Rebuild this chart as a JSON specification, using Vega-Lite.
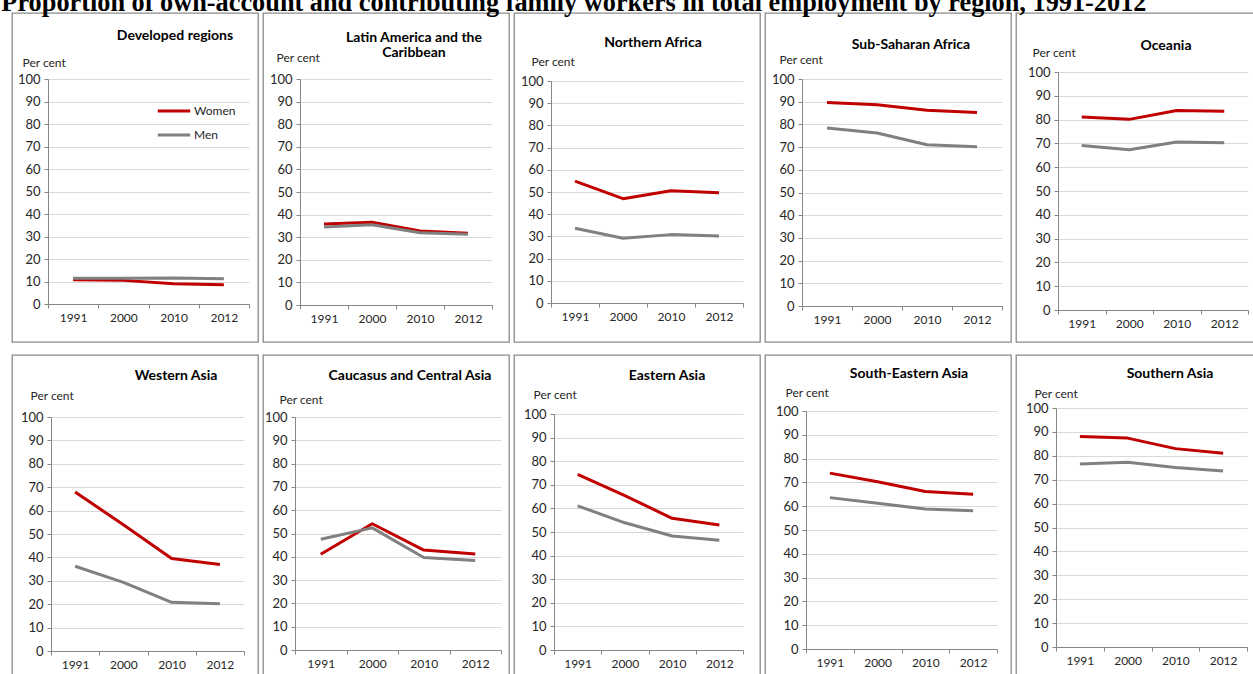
{
  "$schema": "https://vega.github.io/schema/vega-lite/v6.json",
  "padding": {"left": 1, "top": -10, "right": 0, "bottom": 0},
  "title": {"text": "Proportion of own-account and contributing family workers in total employment by region, 1991-2012", "anchor": "start", "font": "Liberation Serif", "fontSize": 26.3, "fontWeight": "bold", "color": "#000000", "offset": -4, "dx": -10},
  "data": {"values": [
    {"region": "Developed regions", "year": "1991", "sex": "Women", "value": 10.8},
    {"region": "Developed regions", "year": "2000", "sex": "Women", "value": 10.5},
    {"region": "Developed regions", "year": "2010", "sex": "Women", "value": 9.0},
    {"region": "Developed regions", "year": "2012", "sex": "Women", "value": 8.6},
    {"region": "Developed regions", "year": "1991", "sex": "Men", "value": 11.5},
    {"region": "Developed regions", "year": "2000", "sex": "Men", "value": 11.5},
    {"region": "Developed regions", "year": "2010", "sex": "Men", "value": 11.6},
    {"region": "Developed regions", "year": "2012", "sex": "Men", "value": 11.2},
    {"region": "Latin America", "year": "1991", "sex": "Women", "value": 35.8},
    {"region": "Latin America", "year": "2000", "sex": "Women", "value": 36.6},
    {"region": "Latin America", "year": "2010", "sex": "Women", "value": 32.7},
    {"region": "Latin America", "year": "2012", "sex": "Women", "value": 31.7},
    {"region": "Latin America", "year": "1991", "sex": "Men", "value": 34.5},
    {"region": "Latin America", "year": "2000", "sex": "Men", "value": 35.5},
    {"region": "Latin America", "year": "2010", "sex": "Men", "value": 32.0},
    {"region": "Latin America", "year": "2012", "sex": "Men", "value": 31.3},
    {"region": "Northern Africa", "year": "1991", "sex": "Women", "value": 54.9},
    {"region": "Northern Africa", "year": "2000", "sex": "Women", "value": 47.0},
    {"region": "Northern Africa", "year": "2010", "sex": "Women", "value": 50.6},
    {"region": "Northern Africa", "year": "2012", "sex": "Women", "value": 49.7},
    {"region": "Northern Africa", "year": "1991", "sex": "Men", "value": 33.7},
    {"region": "Northern Africa", "year": "2000", "sex": "Men", "value": 29.2},
    {"region": "Northern Africa", "year": "2010", "sex": "Men", "value": 30.8},
    {"region": "Northern Africa", "year": "2012", "sex": "Men", "value": 30.2},
    {"region": "Sub-Saharan Africa", "year": "1991", "sex": "Women", "value": 89.7},
    {"region": "Sub-Saharan Africa", "year": "2000", "sex": "Women", "value": 88.7},
    {"region": "Sub-Saharan Africa", "year": "2010", "sex": "Women", "value": 86.2},
    {"region": "Sub-Saharan Africa", "year": "2012", "sex": "Women", "value": 85.2},
    {"region": "Sub-Saharan Africa", "year": "1991", "sex": "Men", "value": 78.4},
    {"region": "Sub-Saharan Africa", "year": "2000", "sex": "Men", "value": 76.2},
    {"region": "Sub-Saharan Africa", "year": "2010", "sex": "Men", "value": 71.0},
    {"region": "Sub-Saharan Africa", "year": "2012", "sex": "Men", "value": 70.1},
    {"region": "Oceania", "year": "1991", "sex": "Women", "value": 81.1},
    {"region": "Oceania", "year": "2000", "sex": "Women", "value": 80.1},
    {"region": "Oceania", "year": "2010", "sex": "Women", "value": 83.8},
    {"region": "Oceania", "year": "2012", "sex": "Women", "value": 83.5},
    {"region": "Oceania", "year": "1991", "sex": "Men", "value": 69.1},
    {"region": "Oceania", "year": "2000", "sex": "Men", "value": 67.3},
    {"region": "Oceania", "year": "2010", "sex": "Men", "value": 70.6},
    {"region": "Oceania", "year": "2012", "sex": "Men", "value": 70.3},
    {"region": "Western Asia", "year": "1991", "sex": "Women", "value": 67.9},
    {"region": "Western Asia", "year": "2000", "sex": "Women", "value": 54.0},
    {"region": "Western Asia", "year": "2010", "sex": "Women", "value": 39.5},
    {"region": "Western Asia", "year": "2012", "sex": "Women", "value": 37.0},
    {"region": "Western Asia", "year": "1991", "sex": "Men", "value": 36.2},
    {"region": "Western Asia", "year": "2000", "sex": "Men", "value": 29.3},
    {"region": "Western Asia", "year": "2010", "sex": "Men", "value": 20.8},
    {"region": "Western Asia", "year": "2012", "sex": "Men", "value": 20.2},
    {"region": "Caucasus and Central Asia", "year": "1991", "sex": "Women", "value": 41.1},
    {"region": "Caucasus and Central Asia", "year": "2000", "sex": "Women", "value": 54.2},
    {"region": "Caucasus and Central Asia", "year": "2010", "sex": "Women", "value": 42.9},
    {"region": "Caucasus and Central Asia", "year": "2012", "sex": "Women", "value": 41.2},
    {"region": "Caucasus and Central Asia", "year": "1991", "sex": "Men", "value": 47.5},
    {"region": "Caucasus and Central Asia", "year": "2000", "sex": "Men", "value": 52.4},
    {"region": "Caucasus and Central Asia", "year": "2010", "sex": "Men", "value": 39.7},
    {"region": "Caucasus and Central Asia", "year": "2012", "sex": "Men", "value": 38.4},
    {"region": "Eastern Asia", "year": "1991", "sex": "Women", "value": 74.4},
    {"region": "Eastern Asia", "year": "2000", "sex": "Women", "value": 65.4},
    {"region": "Eastern Asia", "year": "2010", "sex": "Women", "value": 55.8},
    {"region": "Eastern Asia", "year": "2012", "sex": "Women", "value": 53.0},
    {"region": "Eastern Asia", "year": "1991", "sex": "Men", "value": 61.1},
    {"region": "Eastern Asia", "year": "2000", "sex": "Men", "value": 53.9},
    {"region": "Eastern Asia", "year": "2010", "sex": "Men", "value": 48.3},
    {"region": "Eastern Asia", "year": "2012", "sex": "Men", "value": 46.5},
    {"region": "South-Eastern Asia", "year": "1991", "sex": "Women", "value": 73.9},
    {"region": "South-Eastern Asia", "year": "2000", "sex": "Women", "value": 70.3},
    {"region": "South-Eastern Asia", "year": "2010", "sex": "Women", "value": 66.2},
    {"region": "South-Eastern Asia", "year": "2012", "sex": "Women", "value": 65.0},
    {"region": "South-Eastern Asia", "year": "1991", "sex": "Men", "value": 63.6},
    {"region": "South-Eastern Asia", "year": "2000", "sex": "Men", "value": 61.2},
    {"region": "South-Eastern Asia", "year": "2010", "sex": "Men", "value": 58.8},
    {"region": "South-Eastern Asia", "year": "2012", "sex": "Men", "value": 58.1},
    {"region": "Southern Asia", "year": "1991", "sex": "Women", "value": 88.1},
    {"region": "Southern Asia", "year": "2000", "sex": "Women", "value": 87.4},
    {"region": "Southern Asia", "year": "2010", "sex": "Women", "value": 83.0},
    {"region": "Southern Asia", "year": "2012", "sex": "Women", "value": 81.1},
    {"region": "Southern Asia", "year": "1991", "sex": "Men", "value": 76.6},
    {"region": "Southern Asia", "year": "2000", "sex": "Men", "value": 77.3},
    {"region": "Southern Asia", "year": "2010", "sex": "Men", "value": 75.1},
    {"region": "Southern Asia", "year": "2012", "sex": "Men", "value": 73.6}
  ]},
  "spacing": 11,
  "resolve": {"scale": {"color": "independent"}, "legend": {"color": "independent"}},
  "vconcat": [
    {
      "spacing": 3,
      "resolve": {"scale": {"color": "independent"}, "legend": {"color": "independent"}},
      "hconcat": [
        {
          "width": 246, "height": 329,
          "title": {"text": "Developed regions", "dx": 40, "offset": -30},
          "transform": [{"filter": "datum.region === 'Developed regions'"}],
          "mark": {"type": "line", "strokeWidth": 3},
          "encoding": {
            "x": {"field": "year", "type": "ordinal", "title": null, "scale": {"type": "band", "paddingInner": 0, "paddingOuter": 0, "range": [36, 237]}, "axis": {"offset": -38}},
            "y": {"field": "value", "type": "quantitative", "scale": {"domain": [0, 100], "nice": false, "range": [291, 66]}, "axis": {"offset": -36, "title": "Per cent", "titleX": -26, "titleY": 49}},
            "color": {"field": "sex", "type": "nominal", "scale": {"domain": ["Women", "Men"], "range": ["#c00000", "#808080"]},
              "legend": {"orient": "none", "legendX": 144, "legendY": 80, "title": null, "symbolType": "stroke", "symbolSize": 1050, "symbolStrokeWidth": 3, "labelFontSize": 12, "labelOffset": 2, "rowPadding": -9, "labelColor": "#262626", "labelFont": "Lato"}}
          }
        },
        {
          "width": 246, "height": 329,
          "title": {"text": ["Latin America and the", "Caribbean"], "dx": 28, "offset": -47, "lineHeight": 15},
          "transform": [{"filter": "datum.region === 'Latin America'"}],
          "mark": {"type": "line", "strokeWidth": 3},
          "encoding": {
            "x": {"field": "year", "type": "ordinal", "title": null, "scale": {"type": "band", "paddingInner": 0, "paddingOuter": 0, "range": [37, 229]}, "axis": {"offset": -37}},
            "y": {"field": "value", "type": "quantitative", "scale": {"domain": [0, 100], "nice": false, "range": [292, 66]}, "axis": {"offset": -37, "title": "Per cent", "titleX": -24, "titleY": 44}},
            "color": {"field": "sex", "type": "nominal", "scale": {"domain": ["Women", "Men"], "range": ["#c00000", "#808080"]}, "legend": null}
          }
        },
        {
          "width": 246, "height": 329,
          "title": {"text": "Northern Africa", "dx": 16, "offset": -37},
          "transform": [{"filter": "datum.region === 'Northern Africa'"}],
          "mark": {"type": "line", "strokeWidth": 3},
          "encoding": {
            "x": {"field": "year", "type": "ordinal", "title": null, "scale": {"type": "band", "paddingInner": 0, "paddingOuter": 0, "range": [37, 229]}, "axis": {"offset": -39}},
            "y": {"field": "value", "type": "quantitative", "scale": {"domain": [0, 100], "nice": false, "range": [290, 68]}, "axis": {"offset": -37, "title": "Per cent", "titleX": -20, "titleY": 48}},
            "color": {"field": "sex", "type": "nominal", "scale": {"domain": ["Women", "Men"], "range": ["#c00000", "#808080"]}, "legend": null}
          }
        },
        {
          "width": 246, "height": 329,
          "title": {"text": "Sub-Saharan  Africa", "dx": 23, "offset": -39},
          "transform": [{"filter": "datum.region === 'Sub-Saharan Africa'"}],
          "mark": {"type": "line", "strokeWidth": 3},
          "encoding": {
            "x": {"field": "year", "type": "ordinal", "title": null, "scale": {"type": "band", "paddingInner": 0, "paddingOuter": 0, "range": [37, 237]}, "axis": {"offset": -36}},
            "y": {"field": "value", "type": "quantitative", "scale": {"domain": [0, 100], "nice": false, "range": [293, 66]}, "axis": {"offset": -37, "title": "Per cent", "titleX": -23, "titleY": 46}},
            "color": {"field": "sex", "type": "nominal", "scale": {"domain": ["Women", "Men"], "range": ["#c00000", "#808080"]}, "legend": null}
          }
        },
        {
          "width": 246, "height": 329,
          "title": {"text": "Oceania", "dx": 27, "offset": -40},
          "transform": [{"filter": "datum.region === 'Oceania'"}],
          "mark": {"type": "line", "strokeWidth": 3},
          "encoding": {
            "x": {"field": "year", "type": "ordinal", "title": null, "scale": {"type": "band", "paddingInner": 0, "paddingOuter": 0, "range": [42, 232]}, "axis": {"offset": -32}},
            "y": {"field": "value", "type": "quantitative", "scale": {"domain": [0, 100], "nice": false, "range": [297, 59]}, "axis": {"offset": -42, "title": "Per cent", "titleX": -26, "titleY": 39}},
            "color": {"field": "sex", "type": "nominal", "scale": {"domain": ["Women", "Men"], "range": ["#c00000", "#808080"]}, "legend": null}
          }
        }
      ]
    },
    {
      "spacing": 3,
      "resolve": {"scale": {"color": "independent"}, "legend": {"color": "independent"}},
      "hconcat": [
        {
          "width": 246, "height": 329,
          "title": {"text": "Western Asia", "dx": 41, "offset": -28},
          "transform": [{"filter": "datum.region === 'Western Asia'"}],
          "mark": {"type": "line", "strokeWidth": 3},
          "encoding": {
            "x": {"field": "year", "type": "ordinal", "title": null, "scale": {"type": "band", "paddingInner": 0, "paddingOuter": 0, "range": [39, 232]}, "axis": {"offset": -33}},
            "y": {"field": "value", "type": "quantitative", "scale": {"domain": [0, 100], "nice": false, "range": [296, 62]}, "axis": {"offset": -39, "title": "Per cent", "titleX": -21, "titleY": 40}},
            "color": {"field": "sex", "type": "nominal", "scale": {"domain": ["Women", "Men"], "range": ["#c00000", "#808080"]}, "legend": null}
          }
        },
        {
          "width": 246, "height": 329,
          "title": {"text": "Caucasus and Central Asia", "dx": 24, "offset": -28},
          "transform": [{"filter": "datum.region === 'Caucasus and Central Asia'"}],
          "mark": {"type": "line", "strokeWidth": 3},
          "encoding": {
            "x": {"field": "year", "type": "ordinal", "title": null, "scale": {"type": "band", "paddingInner": 0, "paddingOuter": 0, "range": [32, 238]}, "axis": {"offset": -34}},
            "y": {"field": "value", "type": "quantitative", "scale": {"domain": [0, 100], "nice": false, "range": [295, 62]}, "axis": {"offset": -32, "title": "Per cent", "titleX": -16, "titleY": 44}},
            "color": {"field": "sex", "type": "nominal", "scale": {"domain": ["Women", "Men"], "range": ["#c00000", "#808080"]}, "legend": null}
          }
        },
        {
          "width": 246, "height": 329,
          "title": {"text": "Eastern Asia", "dx": 30, "offset": -28},
          "transform": [{"filter": "datum.region === 'Eastern Asia'"}],
          "mark": {"type": "line", "strokeWidth": 3},
          "encoding": {
            "x": {"field": "year", "type": "ordinal", "title": null, "scale": {"type": "band", "paddingInner": 0, "paddingOuter": 0, "range": [40, 229]}, "axis": {"offset": -34}},
            "y": {"field": "value", "type": "quantitative", "scale": {"domain": [0, 100], "nice": false, "range": [295, 59]}, "axis": {"offset": -40, "title": "Per cent", "titleX": -21, "titleY": 39}},
            "color": {"field": "sex", "type": "nominal", "scale": {"domain": ["Women", "Men"], "range": ["#c00000", "#808080"]}, "legend": null}
          }
        },
        {
          "width": 246, "height": 329,
          "title": {"text": "South-Eastern  Asia", "dx": 21, "offset": -26},
          "transform": [{"filter": "datum.region === 'South-Eastern Asia'"}],
          "mark": {"type": "line", "strokeWidth": 3},
          "encoding": {
            "x": {"field": "year", "type": "ordinal", "title": null, "scale": {"type": "band", "paddingInner": 0, "paddingOuter": 0, "range": [41, 232]}, "axis": {"offset": -35}},
            "y": {"field": "value", "type": "quantitative", "scale": {"domain": [0, 100], "nice": false, "range": [294, 56]}, "axis": {"offset": -41, "title": "Per cent", "titleX": -21, "titleY": 37}},
            "color": {"field": "sex", "type": "nominal", "scale": {"domain": ["Women", "Men"], "range": ["#c00000", "#808080"]}, "legend": null}
          }
        },
        {
          "width": 246, "height": 329,
          "title": {"text": "Southern Asia", "dx": 31, "offset": -26},
          "transform": [{"filter": "datum.region === 'Southern Asia'"}],
          "mark": {"type": "line", "strokeWidth": 3},
          "encoding": {
            "x": {"field": "year", "type": "ordinal", "title": null, "scale": {"type": "band", "paddingInner": 0, "paddingOuter": 0, "range": [40, 231]}, "axis": {"offset": -37}},
            "y": {"field": "value", "type": "quantitative", "scale": {"domain": [0, 100], "nice": false, "range": [292, 53]}, "axis": {"offset": -40, "title": "Per cent", "titleX": -22, "titleY": 38}},
            "color": {"field": "sex", "type": "nominal", "scale": {"domain": ["Women", "Men"], "range": ["#c00000", "#808080"]}, "legend": null}
          }
        }
      ]
    }
  ],
  "config": {
    "font": "Lato",
    "view": {"stroke": "#8a8a8a", "strokeWidth": 1.3},
    "title": {"font": "Lato", "fontSize": 14, "fontWeight": "bold", "color": "#000000", "anchor": "middle"},
    "line": {"strokeJoin": "round"},
    "axis": {"domainColor": "#868686", "tickColor": "#868686", "labelColor": "#262626", "labelFont": "Lato", "titleFont": "Lato", "titleFontWeight": "normal", "titleColor": "#262626", "gridColor": "#d9d9d9", "tickSize": 4, "domainWidth": 1},
    "axisX": {"grid": false, "tickBand": "extent", "labelAngle": 0, "labelFontSize": 12, "labelPadding": 4},
    "axisY": {"grid": true, "values": [0, 10, 20, 30, 40, 50, 60, 70, 80, 90, 100], "labelFontSize": 13, "labelPadding": 4, "titleAngle": 0, "titleAlign": "left", "titleBaseline": "middle", "titleFontSize": 12}
  }
}
